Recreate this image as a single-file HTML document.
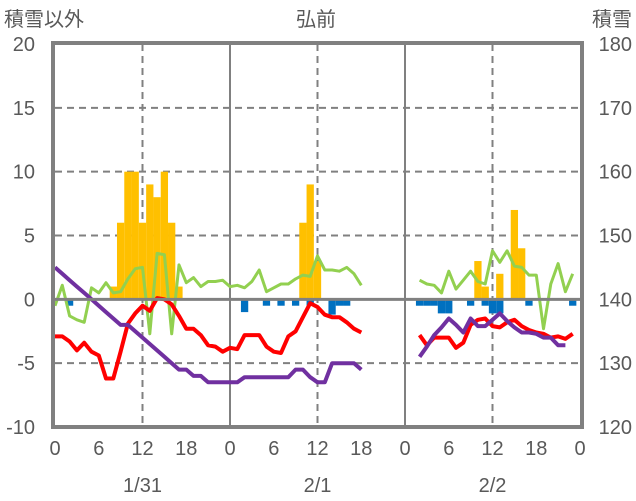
<!DOCTYPE html>
<html><head><meta charset="utf-8">
<style>
html,body{margin:0;padding:0;background:#fff;}
svg{display:block;font-family:"Liberation Sans","Noto Sans CJK JP",sans-serif;}
text{fill:#595959;font-size:20px;}
</style></head>
<body>
<svg id="chart" width="636" height="501" viewBox="0 0 636 501">
<text x="316" y="26" text-anchor="middle">弘前</text>
<text x="4" y="26">積雪以外</text>
<text x="632" y="26" text-anchor="end">積雪</text>
<g id="grid"></g>
<g id="bars"></g>
<g id="lines"></g>
<g id="axes"></g>
</svg>
<script>
// hourly data, index 0..71 (3 days), null = no value
const dayLabels = ["1/31","2/1","2/2"];
const hourTicks = [0,6,12,18];
const leftTicks = [20,15,10,5,0,-5,-10];
const rightTicks = [180,170,160,150,140,130,120];
const snowfallPos = [
 0,0,0,0,0,0,0,0,1,6,10,10,6,9,8,10,6,1,0,0,0,0,0,0,
 0,0,0,0,0,0,0,0,0,0,6,9,3,0,0,0,0,0,0,0,0,0,0,0,
 0,0,0,0,0,0,0,0,0,0,3,1,0,2,0,7,4,0,0,0,0,0,0,0];
const snowfallNeg = [
 0,0,-0.5,0,0,0,0,0,0,0,0,0,0,0,0,0,0,0,0,0,0,0,0,0,
 0,0,-1,0,0,-0.5,0,-0.5,0,-0.5,0,-0.5,0,0,-1.2,-0.5,-0.5,0,0,0,0,0,0,0,
 0,0,-0.5,-0.5,-0.5,-1.1,-1.1,0,0,-0.5,0,-0.5,-1.1,-1.1,0,0,0,-0.5,0,0,0,0,0,-0.5];
const greenSeries = [
 -0.5,1.1,-1.3,-1.6,-1.8,0.9,0.5,1.3,0.5,0.6,1.6,2.4,2.5,-2.7,3.6,3.5,-2.7,2.7,1.3,1.7,1.0,1.4,1.4,1.5,
 1.0,1.1,0.9,1.4,2.3,0.6,0.9,1.2,1.2,1.6,1.9,1.8,3.4,2.3,2.3,2.2,2.5,2.0,1.1,null,null,null,null,null,
 null,null,1.5,1.2,1.1,0.5,2.2,0.8,1.5,2.2,1.4,1.2,3.8,2.9,3.8,2.6,2.5,1.9,1.9,-2.3,1.2,2.8,0.6,2.0];
const redSeries = [
 -2.9,-2.9,-3.3,-4.0,-3.4,-4.1,-4.4,-6.2,-6.2,-4.1,-1.9,-1.1,-0.5,-0.9,0.1,0.0,-0.4,-1.3,-2.3,-2.3,-2.8,-3.6,-3.7,-4.1,
 -3.8,-3.9,-2.8,-2.8,-2.8,-3.7,-4.1,-4.2,-2.9,-2.5,-1.4,-0.3,-0.6,-1.2,-1.4,-1.4,-1.8,-2.3,-2.6,null,null,null,null,null,
 null,null,-2.8,-3.6,-3.0,-3.0,-3.0,-3.8,-3.4,-2.0,-1.6,-1.5,-2.1,-2.2,-1.8,-1.6,-2.1,-2.4,-2.6,-2.7,-3.0,-2.9,-3.1,-2.7];
const snowDepth = [
 145,144,143,142,141,140,139,138,137,136,136,135,134,133,132,131,130,129,129,128,128,127,127,127,
 127,127,127.8,127.8,127.8,127.8,127.8,127.8,127.8,129,129,127.8,127,127,130,130,130,130,129,null,null,null,null,null,
 null,null,131,132.6,134.4,135.6,137,136,134.8,137,135.8,135.8,136.8,137.8,136.6,135.6,134.8,134.8,134.6,134,134,132.8,132.8,null];

const X0=55, X1=580, YT=44, YB=427, NH=72;
const xs = h => X0 + (X1-X0)*h/NH;
const yl = v => YB - (v+10)*(YB-YT)/30;
const yr = v => YB - (v-120)*(YB-YT)/60;
const NS="http://www.w3.org/2000/svg";
function mk(tag, attrs, parent){const e=document.createElementNS(NS,tag);for(const k in attrs)e.setAttribute(k,attrs[k]);parent.appendChild(e);return e;}
const grid=document.getElementById('grid'), bars=document.getElementById('bars'), lines=document.getElementById('lines'), axes=document.getElementById('axes'), svg=document.getElementById('chart');

// horizontal gridlines + labels
leftTicks.forEach((t,i)=>{
  const y=yl(t);
  if(t!==20 && t!==-10 && t!==0){
    const g=mk('line',{x1:X0,x2:X1,y1:y,y2:y,stroke:'#808080','stroke-width':2,'stroke-dasharray':'7,5'},grid);
    
    
  }
  const lt=mk('text',{x:35,y:y+7,'text-anchor':'end'},axes); lt.textContent=t;
  
  
  const rt=mk('text',{x:632,y:y+7,'text-anchor':'end'},axes); rt.textContent=rightTicks[i];
  
  
});
// vertical day separators and noon dashes, x labels
for(let d=0; d<3; d++){
  const xn=xs(d*24+12);
  const vl=mk('line',{x1:xn,x2:xn,y1:YT,y2:YB,stroke:'#808080','stroke-width':2,'stroke-dasharray':'7,5'},grid);
  
  
  if(d>0){
    const sl=mk('line',{x1:xs(d*24),x2:xs(d*24),y1:YT,y2:YB,stroke:'#808080','stroke-width':2},grid);
    
    
  }
  hourTicks.forEach(h=>{
    const t=mk('text',{x:xs(d*24+h),y:455,'text-anchor':'middle'},axes); t.textContent=h;
    
    
  });
  const dl=mk('text',{x:xn,y:492,'text-anchor':'middle'},axes); dl.textContent=dayLabels[d];
  
  
}
const end=mk('text',{x:X1,y:455,'text-anchor':'middle'},axes); end.textContent=0;



// bars
const bw=(X1-X0)/NH;
snowfallPos.forEach((v,h)=>{ if(v>0){
  const r=mk('rect',{x:xs(h)-bw/2,y:yl(v),width:bw,height:yl(0)-yl(v),fill:'#FFC000'},bars);
  
  
}});
snowfallNeg.forEach((v,h)=>{ if(v<0){
  const r=mk('rect',{x:xs(h)-bw/2,y:yl(0),width:bw,height:yl(v)-yl(0),fill:'#0070C0'},bars);
  
  
}});
// lines
function path(arr, yf){
  let d='', pen=false;
  arr.forEach((v,h)=>{ if(v===null||v===undefined){pen=false;return;} d+=(pen?'L':'M')+xs(h).toFixed(1)+' '+yf(v).toFixed(1)+' '; pen=true;});
  return d;
}
const gl=mk('path',{d:path(greenSeries,yl),fill:'none',stroke:'#92D050','stroke-width':3,'stroke-linejoin':'round'},lines);


const rl=mk('path',{d:path(redSeries,yl),fill:'none',stroke:'#FF0000','stroke-width':4,'stroke-linejoin':'round'},lines);


const pl=mk('path',{d:path(snowDepth,yr),fill:'none',stroke:'#7030A0','stroke-width':4,'stroke-linejoin':'round'},lines);



// zero line & frame
const z=mk('line',{x1:X0,x2:X1,y1:yl(0),y2:yl(0),stroke:'#808080','stroke-width':3},axes);


const fr=mk('rect',{x:X0-2,y:YT-1,width:X1-X0+4,height:YB-YT+1,fill:'none',stroke:'#808080','stroke-width':4},axes);


</script>
</body></html>
